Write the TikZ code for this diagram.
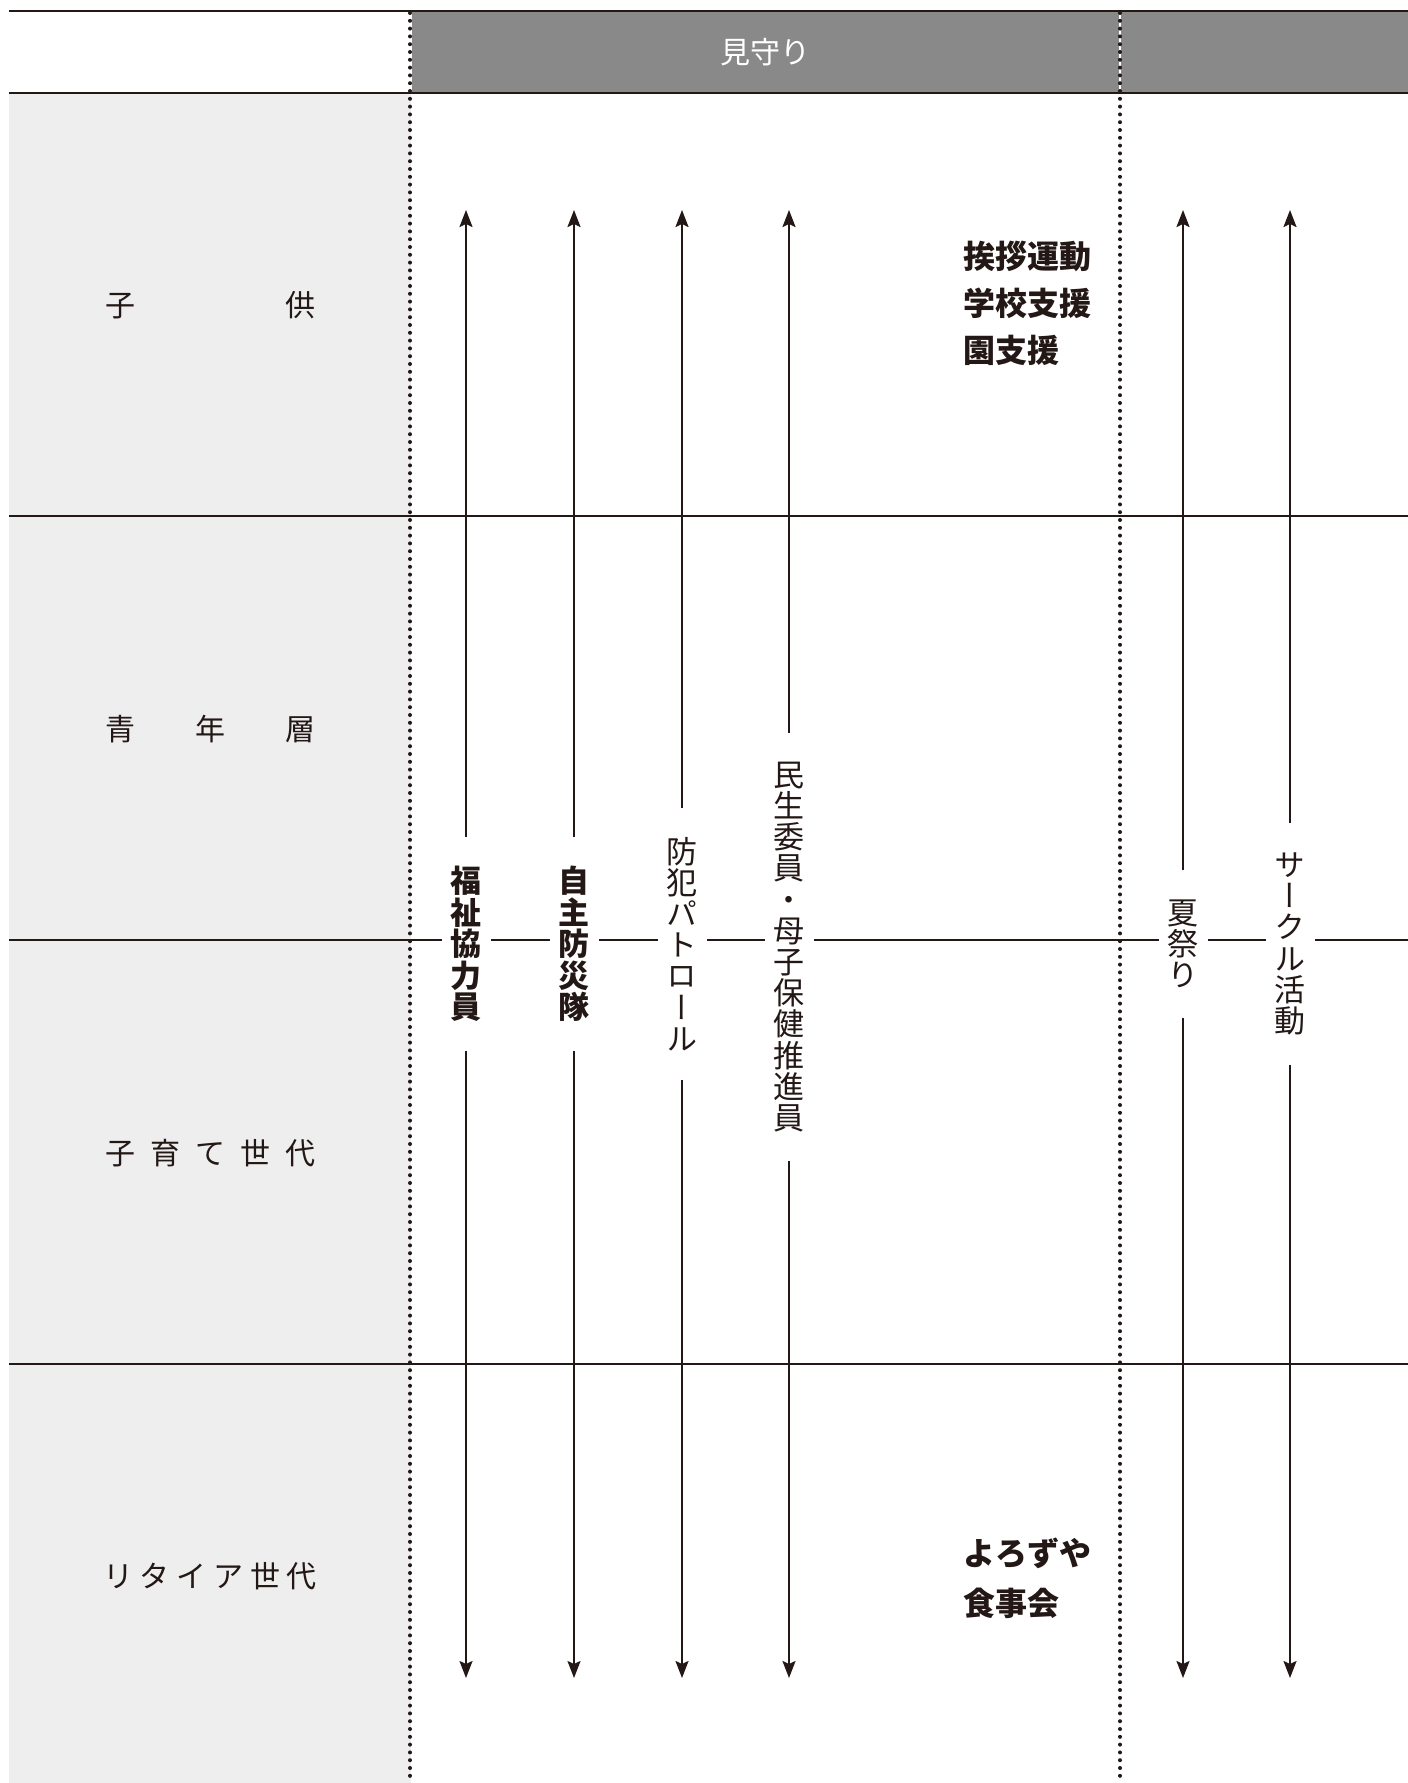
\documentclass[tikz,border=0pt]{standalone}
\usepackage{fontspec}
\newfontfamily\jp{Noto Sans CJK JP}
\newfontfamily\jpv[RawFeature=+vert]{Noto Sans CJK JP}
\usetikzlibrary{arrows.meta}
\definecolor{ink}{RGB}{35,24,21}
\definecolor{hdr}{RGB}{137,137,137}
\definecolor{side}{RGB}{238,238,238}
\begin{document}
\begin{tikzpicture}[x=0.5pt,y=-0.5pt,
  rule/.style={draw=ink, line width=1.1pt},
  rowline/.style={draw=ink, line width=0.7pt},
  dotline/.style={draw=ink, line width=2pt, line cap=round, dash pattern=on 0pt off 3.9pt},
  rowlab/.style={inner sep=0pt, text=ink, font=\jp\fontsize{15}{18}\selectfont},
  hdrlab/.style={inner sep=0pt, text=white, font=\jp\fontsize{15}{18}\selectfont},
  vlab/.style={fill=white, inner xsep=4.5pt, inner ysep=14.5pt, align=center, text=ink, font=\jpv\fontsize{15.5}{15.6}\selectfont},
  vlabb/.style={vlab, font=\jpv\bfseries\fontsize{15.5}{15.8}\selectfont},
  rtext/.style={inner sep=0pt, align=left, anchor=west, text=ink},
  arr/.style={draw=ink, line width=1pt, -{Stealth[length=8.5pt, width=6.5pt, inset=1.5pt]}}
]
\useasboundingbox (0,0) rectangle (1408,1783);
\fill[white] (0,0) rectangle (1408,1783);
% backgrounds
\fill[side] (9,93) rectangle (411,1783);
\fill[hdr] (411,11) rectangle (1408,93);
% horizontal rules
\draw[rule] (9,11) -- (1408,11);
\draw[rule] (9,93) -- (1408,93);
\draw[rowline] (9,516) -- (1408,516);
\draw[rowline] (9,940) -- (1408,940);
\draw[rowline] (9,1364) -- (1408,1364);
% dotted separators
\draw[white, line width=1pt] (411,12) -- (411,92);
\draw[white, line width=1pt] (1120,12) -- (1120,92);
\draw[dotline] (410,13) -- (410,1783);
\draw[dotline] (1120,13) -- (1120,1783);
% header
\node[hdrlab] (h1) at (765,52) {見守り};
% row labels
\node[rowlab] (r1) at (210,305) {\makebox[105pt]{子\hfill 供}};
\node[rowlab] (r2) at (210,729) {\makebox[105pt]{青\hfill 年\hfill 層}};
\node[rowlab] (r3) at (210,1153) {\makebox[105pt]{子\hfill 育\hfill て\hfill 世\hfill 代}};
\node[rowlab] (r4) at (210,1576) {\makebox[107pt]{リ\hfill タ\hfill イ\hfill ア\hfill 世\hfill 代}};
% vertical labels
\node[vlabb] (l1) at (466,944) {福\\祉\\協\\力\\員};
\node[vlabb] (l2) at (574,944) {自\\主\\防\\災\\隊};
\node[vlab] (l3) at (682,944) {防\\犯\\パ\\ト\\ロ\\ー\\ル};
\node[vlab] (l4) at (789,947) {民\\生\\委\\員\\・\\母\\子\\保\\健\\推\\進\\員};
\node[vlab] (l5) at (1183,944) {夏\\祭\\り};
\node[vlab] (l6) at (1290,944) {サ\\ー\\ク\\ル\\活\\動};
% arrow ends
\foreach \i/\x in {1/466,2/574,3/682,4/789,5/1183,6/1290}{
  \coordinate (t\i) at (\x,210);
  \coordinate (b\i) at (\x,1678);
}
\foreach \i in {1,...,6}{
  \draw[arr] (l\i) -- (t\i);
  \draw[arr] (l\i) -- (b\i);
}
% right texts
\node[rtext, font=\jp\bfseries\fontsize{16}{23.5}\selectfont] (n1) at (963,303) {挨拶運動\\学校支援\\園支援};
\node[rtext, font=\jp\bfseries\fontsize{16}{25}\selectfont] (n2) at (963,1578) {よろずや\\食事会};
\end{tikzpicture}
\end{document}
